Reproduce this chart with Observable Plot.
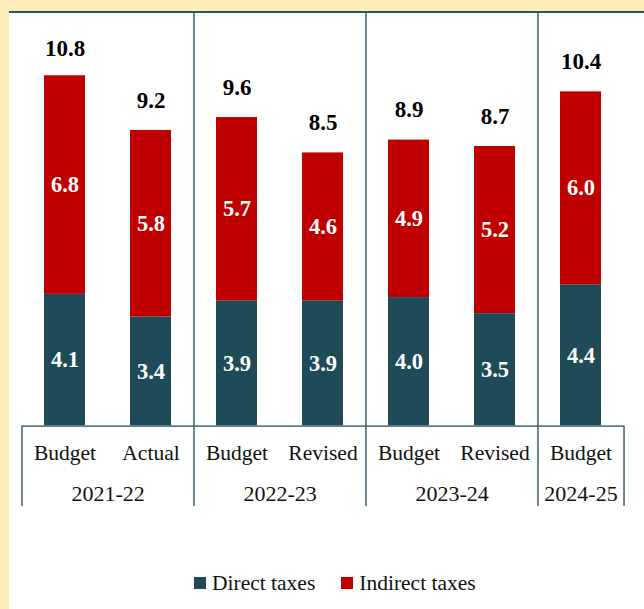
<!DOCTYPE html>
<html>
<head>
<meta charset="utf-8">
<script src="https://cdn.jsdelivr.net/npm/d3@7"></script>
<script src="https://cdn.jsdelivr.net/npm/@observablehq/plot@0.6"></script>
<style>
  html, body { margin: 0; padding: 0; }
  body { width: 644px; height: 609px; background: #FFEBB6; position: relative; overflow: hidden; font-family: "Liberation Serif", serif; }
  #panel { position: absolute; left: 9px; top: 11px; right: 0; bottom: 0; background: #ffffff; border-top: 2px solid #1D5A6B; }
  #chart { position: absolute; left: 0; top: 0; }
  #legend { position: absolute; left: 194px; top: 570px; height: 26px; display: flex; align-items: center; font-size: 21.5px; color: #111; }
  .sw { width: 12px; height: 12px; display: inline-block; margin-right: 6px; }
  .item { display: flex; align-items: center; margin-right: 26px; }
</style>
</head>
<body>
<div id="panel"></div>
<div id="chart"></div>
<div id="legend"></div>
<script>
const years = ["2021-22", "2021-22", "2022-23", "2022-23", "2023-24", "2023-24", "2024-25"];
const stages = ["Budget", "Actual", "Budget", "Revised", "Budget", "Revised", "Budget"];
const direct = [4.1, 3.4, 3.9, 3.9, 4.0, 3.5, 4.4];
const indirect = [6.8, 5.8, 5.7, 4.6, 4.9, 5.2, 6.0];
const totals = [10.8, 9.2, 9.6, 8.5, 8.9, 8.7, 10.4];
const series = ["Direct taxes", "Indirect taxes"];
const colors = ["#1E4B57", "#C00000"];

const keys = years.map((y, i) => y + " " + stages[i]);
const rows = [];
keys.forEach((k, i) => {
  rows.push({key: k, series: series[0], value: direct[i]});
  rows.push({key: k, series: series[1], value: indirect[i]});
});
const tops = keys.map((k, i) => ({key: k, total: totals[i]}));
const cats = keys.map((k, i) => ({key: k, stage: stages[i]}));

// group structure
const groups = [];
years.forEach((y, i) => {
  const g = groups.find(d => d.year === y);
  if (g) g.count++; else groups.push({year: y, key: keys[i], count: 1, index: i});
});
const innerSeps = groups.slice(1).map(g => ({key: g.key}));

const W = 644, H = 520;
const mL = 21.5, mR = 20, mT = 12, mB = 14;
const step = (W - mL - mR) / keys.length;
const baseY = 425.7, pxPerUnit = 32.15;
const frameBottom = H - mB;
const yLow = -(frameBottom - baseY) / pxPerUnit;
const yHigh = (baseY - mT) / pxPerUnit;

const sepColor = "#2F5560";
const axisColor = "#5B7F8A";

const chart = Plot.plot({
  width: W,
  height: H,
  marginLeft: mL,
  marginRight: mR,
  marginTop: mT,
  marginBottom: mB,
  style: {background: "transparent", fontFamily: "Liberation Serif, serif", overflow: "visible"},
  x: {type: "band", domain: keys, paddingInner: 0.523, paddingOuter: 0.2615, axis: null},
  y: {domain: [yLow, yHigh], axis: null},
  color: {domain: series, range: colors},
  marks: [
    Plot.barY(rows, {x: "key", y: "value", fill: "series", order: series}),
    Plot.text(rows, Plot.stackY({x: "key", y: "value", z: "series", order: series, text: d => d.value.toFixed(1), fill: "white", fontWeight: "bold", fontSize: 22.5})),
    Plot.text(tops, {x: "key", y: "total", text: d => d.total.toFixed(1), dy: -30, fill: "#000", fontWeight: "bold", fontSize: 23}),
    Plot.ruleY([0], {stroke: axisColor, strokeWidth: 1.8}),
    Plot.ruleX(innerSeps, {x: "key", dx: -step / 2, stroke: sepColor, strokeWidth: 1.4}),
    Plot.ruleX([{key: keys[0]}], {x: "key", dx: -step / 2, y1: 0, y2: yLow, stroke: sepColor, strokeWidth: 1.4}),
    Plot.ruleX([{key: keys[keys.length - 1]}], {x: "key", dx: step / 2, y1: 0, y2: yLow, stroke: sepColor, strokeWidth: 1.4}),
    Plot.text(cats, {x: "key", text: "stage", frameAnchor: "bottom", lineAnchor: "middle", dy: -(frameBottom - 453), fontSize: 21.5, fill: "#111"}),
    Plot.text(groups.filter(g => g.count === 2), {x: "key", text: "year", frameAnchor: "bottom", lineAnchor: "middle", dx: step / 2, dy: -(frameBottom - 493), fontSize: 22, fill: "#111"}),
    Plot.text(groups.filter(g => g.count === 1), {x: "key", text: "year", frameAnchor: "bottom", lineAnchor: "middle", dy: -(frameBottom - 493), fontSize: 22, fill: "#111"})
  ]
});
document.getElementById("chart").appendChild(chart);

const legend = document.getElementById("legend");
series.forEach((s, i) => {
  const item = document.createElement("span");
  item.className = "item";
  const sw = document.createElement("span");
  sw.className = "sw";
  sw.style.background = colors[i];
  item.appendChild(sw);
  item.appendChild(document.createTextNode(s));
  legend.appendChild(item);
});
</script>
</body>
</html>
